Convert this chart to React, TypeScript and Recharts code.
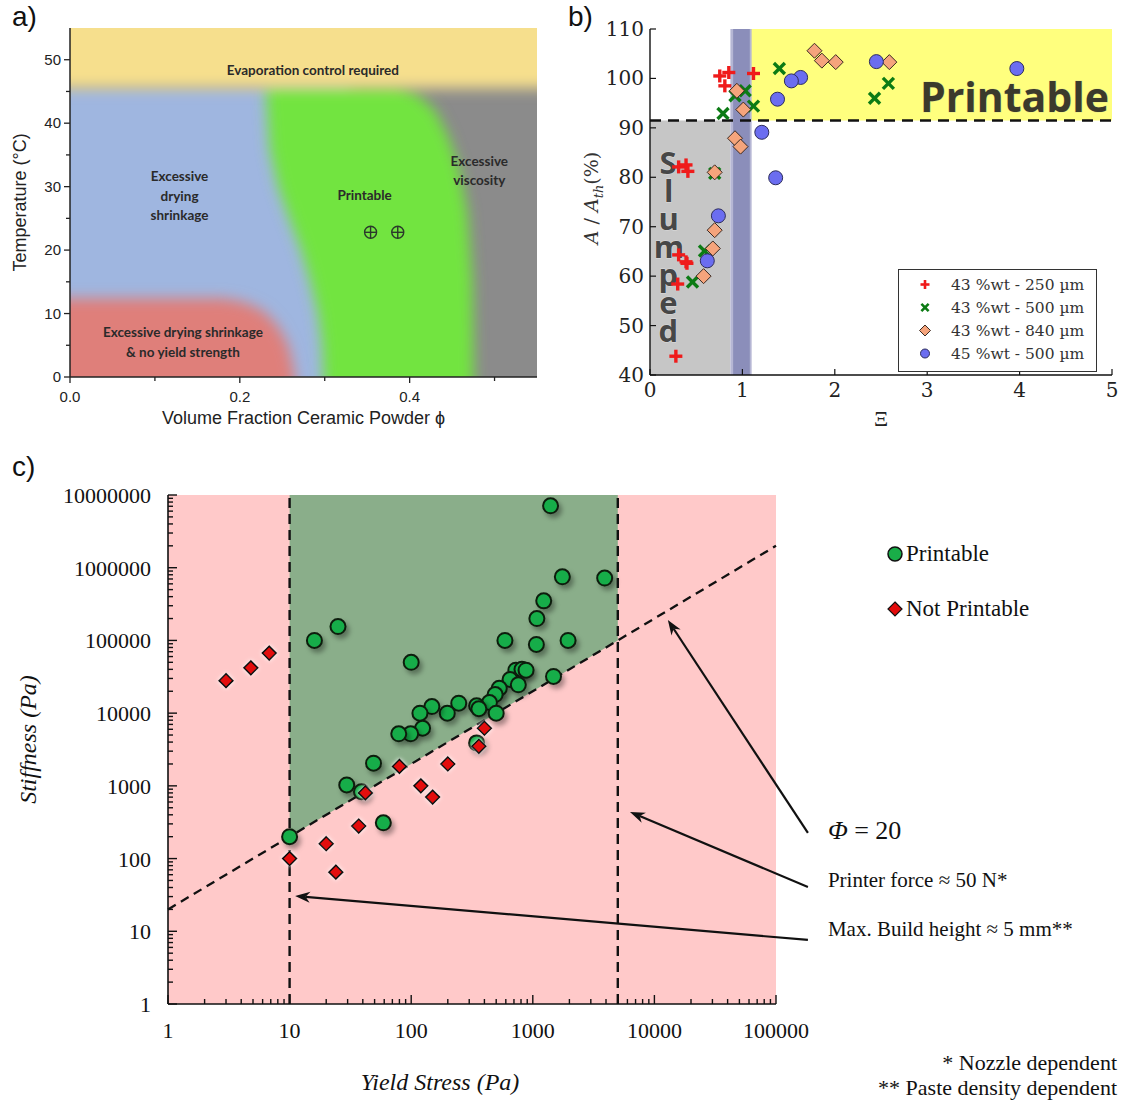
import React from 'react';
import {
  ComposedChart,
  ScatterChart,
  Scatter,
  Area,
  XAxis,
  YAxis,
  CartesianGrid,
  ReferenceArea,
  ReferenceLine,
  ReferenceDot,
  Legend,
} from 'recharts';

const SANS = "'Liberation Sans', Arial, sans-serif";
const SERIF = "'Liberation Serif', 'DejaVu Serif', serif";
const MPL_SERIF = "'DejaVu Serif', serif";

/* ---------------- a) printability map ---------------- */
const PHI_TICKS = [0, 0.1, 0.2, 0.3, 0.4, 0.5];
const PHI_LABELS = [0, 0.2, 0.4];
const TEMP_TICKS = [0, 5, 10, 15, 20, 25, 30, 35, 40, 45, 50];
const TEMP_LABELS = [0, 10, 20, 30, 40, 50];

// zones as temperature bands [low, high] along the powder fraction
const EVAPORATION_ZONE = [
  { phi: -0.05, band: [45.5, 62] },
  { phi: 0.6, band: [45.5, 62] },
];
const DRYING_ZONE = [
  { phi: -0.05, band: [-5, 46] },
  { phi: 0.33, band: [-5, 46] },
];
const NO_YIELD_ZONE = [
  { phi: -0.05, band: [-5, 12.4] },
  { phi: 0.18, band: [-5, 12.4] },
  { phi: 0.205, band: [-5, 11.8] },
  { phi: 0.228, band: [-5, 10.4] },
  { phi: 0.245, band: [-5, 8] },
  { phi: 0.257, band: [-5, 5] },
  { phi: 0.264, band: [-5, 1] },
  { phi: 0.267, band: [-5, -5] },
];
const PRINTABLE_ZONE = [
  { phi: 0.231, band: [44, 46] },
  { phi: 0.235, band: [36, 46] },
  { phi: 0.245, band: [30, 46] },
  { phi: 0.258, band: [25, 46] },
  { phi: 0.272, band: [20, 46] },
  { phi: 0.283, band: [15, 46] },
  { phi: 0.292, band: [10, 46] },
  { phi: 0.297, band: [5, 46] },
  { phi: 0.3, band: [-5, 46] },
  { phi: 0.385, band: [-5, 46] },
  { phi: 0.41, band: [-5, 44.5] },
  { phi: 0.43, band: [-5, 42] },
  { phi: 0.445, band: [-5, 38] },
  { phi: 0.458, band: [-5, 33] },
  { phi: 0.468, band: [-5, 26] },
  { phi: 0.474, band: [-5, 15] },
  { phi: 0.476, band: [-5, -5] },
];
const MAP_POINTS_PHI = [0.354, 0.386];
const MAP_POINTS_TEMP = [22.8, 22.8];
const ZONE_TEXT = [
  { phi: 0.286, temp: 48.3, lines: ['Evaporation control required'] },
  { phi: 0.129, temp: 28.5, lines: ['Excessive', 'drying', 'shrinkage'] },
  { phi: 0.347, temp: 28.6, lines: ['Printable'] },
  { phi: 0.482, temp: 32.5, lines: ['Excessive', 'viscosity'] },
  { phi: 0.133, temp: 5.5, lines: ['Excessive drying shrinkage', '& no yield strength'] },
];

const mapPoints = MAP_POINTS_PHI.map((phi, i) => ({ phi, temp: MAP_POINTS_TEMP[i] }));
const near = (a: number, list: number[]) => list.some((v) => Math.abs(v - a) < 1e-9);

const PhiTick = (props: any) => {
  const { x, y, payload } = props;
  const major = near(payload.value, PHI_LABELS);
  return (
    <g>
      <line x1={x} x2={x} y1={y} y2={y + (major ? 6 : 4)} stroke="#222" strokeWidth={1.3} />
      {major && (
        <text x={x} y={y + 25} textAnchor="middle" fontFamily={SANS} fontSize={15} fill="#222">
          {payload.value.toFixed(1)}
        </text>
      )}
    </g>
  );
};

const TempTick = (props: any) => {
  const { x, y, payload } = props;
  const major = near(payload.value, TEMP_LABELS);
  return (
    <g>
      <line x1={x} x2={x - (major ? 6 : 4)} y1={y} y2={y} stroke="#222" strokeWidth={1.3} />
      {major && (
        <text x={x - 9} y={y + 5} textAnchor="end" fontFamily={SANS} fontSize={15} fill="#222">
          {payload.value}
        </text>
      )}
    </g>
  );
};

const ZoneLabel = (props: any) => {
  const { viewBox, lines } = props;
  const lh = 19.5;
  const top = viewBox.y - ((lines.length - 1) * lh) / 2;
  return (
    <text textAnchor="middle" fontFamily="Lato, 'Open Sans', sans-serif" fontWeight={700} fontSize={13.5} fill="#2a2a2a">
      {lines.map((l: string, i: number) => (
        <tspan key={i} x={viewBox.x} y={top + i * lh} dy="0.35em">
          {l}
        </tspan>
      ))}
    </text>
  );
};

const MapXTitle = (props: any) => {
  const { viewBox } = props;
  return (
    <text x={viewBox.x + viewBox.width / 2} y={viewBox.y + 47} textAnchor="middle" fontFamily={SANS} fontSize={18} fill="#222">
      Volume Fraction Ceramic Powder ϕ
    </text>
  );
};

const MapYTitle = (props: any) => {
  const { viewBox } = props;
  const cx = viewBox.x + 26;
  const cy = viewBox.y + viewBox.height / 2;
  return (
    <text x={cx} y={cy} transform={`rotate(-90, ${cx}, ${cy})`} textAnchor="middle" fontFamily={SANS} fontSize={18} fill="#222">
      Temperature (°C)
    </text>
  );
};

const CrossCircle = (props: any) => {
  const { cx, cy } = props;
  return (
    <g stroke="#2b3a2b" strokeWidth={1.4} fill="none">
      <circle cx={cx} cy={cy} r={6} />
      <line x1={cx - 6} x2={cx + 6} y1={cy} y2={cy} />
      <line x1={cx} x2={cx} y1={cy - 6} y2={cy + 6} />
    </g>
  );
};

function PrintabilityMap() {
  return (
    <ComposedChart width={560} height={440} margin={{ top: 28, right: 23, bottom: 0, left: 0 }}>
      <CartesianGrid horizontal={false} vertical={false} fill="#8b8b8b" fillOpacity={1} />
      <XAxis
        type="number"
        dataKey="phi"
        domain={[0, 0.55]}
        allowDataOverflow
        ticks={PHI_TICKS}
        interval={0}
        tickSize={0}
        tickMargin={0}
        tickLine={false}
        tick={PhiTick}
        height={63}
        axisLine={{ stroke: '#222', strokeWidth: 1.5 }}
        label={<MapXTitle />}
      />
      <YAxis
        type="number"
        domain={[0, 55]}
        allowDataOverflow
        ticks={TEMP_TICKS}
        interval={0}
        tickSize={0}
        tickMargin={0}
        tickLine={false}
        tick={TempTick}
        width={70}
        axisLine={{ stroke: '#222', strokeWidth: 1.5 }}
        label={<MapYTitle />}
      />
      <XAxis xAxisId="frame" orientation="top" type="number" domain={[0, 0.55]} height={0} tick={false} tickLine={false} axisLine={{ stroke: '#333', strokeWidth: 1.3 }} />
      <YAxis yAxisId="frame" orientation="right" type="number" domain={[0, 55]} width={0} tick={false} tickLine={false} axisLine={{ stroke: '#333', strokeWidth: 1.3 }} />

      <Area className="zone" data={DRYING_ZONE} dataKey="band" type="linear" fill="#9fb6e0" fillOpacity={1} stroke="none" dot={false} activeDot={false} legendType="none" isAnimationActive={false} />
      <Area className="zone" data={PRINTABLE_ZONE} dataKey="band" type="linear" fill="#72e43f" fillOpacity={1} stroke="none" dot={false} activeDot={false} legendType="none" isAnimationActive={false} />
      <Area className="zone" data={NO_YIELD_ZONE} dataKey="band" type="linear" fill="#df7f7a" fillOpacity={1} stroke="none" dot={false} activeDot={false} legendType="none" isAnimationActive={false} />
      <Area className="zone" data={EVAPORATION_ZONE} dataKey="band" type="linear" fill="#f6df8d" fillOpacity={1} stroke="none" dot={false} activeDot={false} legendType="none" isAnimationActive={false} />

      <Scatter data={mapPoints} dataKey="temp" shape={CrossCircle} isAnimationActive={false} />
      {ZONE_TEXT.map((z) => (
        <ReferenceDot key={z.lines.join()} x={z.phi} y={z.temp} r={0} fill="none" stroke="none" label={<ZoneLabel lines={z.lines} />} />
      ))}
    </ComposedChart>
  );
}

/* ---------------- b) slumping vs printable ---------------- */
const XI_TICKS = [0, 1, 2, 3, 4, 5];
const AREA_TICKS = [40, 50, 60, 70, 80, 90, 100, 110];
const PRINTABLE_LIMIT = 91.5;
const SLUMP_XI_MAX = 0.87;
const TRANSITION_XI = [0.9, 1.08];
const TRANSITION_HALO = [0.87, 1.1];
const PRINTABLE_XI_MIN = 1.09;

const XI_250 = [0.755, 0.853, 0.81, 1.12, 0.31, 0.39, 0.41, 0.31, 0.4, 0.39, 0.3, 0.28];
const AREA_250 = [100.5, 101.2, 98.5, 101, 82.1, 82.5, 81.2, 64.3, 62.6, 62.9, 58.4, 43.8];
const XI_500 = [0.79, 0.92, 1.03, 1.12, 1.4, 2.43, 2.58, 0.7, 0.59, 0.46];
const AREA_500 = [92.9, 96.5, 97.5, 94.4, 102.0, 96.0, 99.0, 80.8, 65.1, 58.8];
const XI_840 = [1.78, 1.86, 2.01, 2.59, 0.94, 1.01, 0.92, 0.98, 0.7, 0.7, 0.68, 0.58];
const AREA_840 = [105.6, 103.6, 103.3, 103.3, 97.5, 93.7, 87.9, 86.2, 81.0, 69.3, 65.6, 60.0];
const XI_45_500 = [2.45, 3.97, 1.63, 1.53, 1.38, 1.21, 1.36, 0.74, 0.62];
const AREA_45_500 = [103.4, 102.0, 100.2, 99.5, 95.8, 89.1, 79.9, 72.2, 63.1];

const toPoints = (xs: number[], ys: number[]) => xs.map((xi, i) => ({ xi, area: ys[i] }));

const PlusMark = ({ cx, cy, s = 6.5, w = 3.4 }: any) => (
  <g stroke="#ef1b1b" strokeWidth={w}>
    <line x1={cx - s} x2={cx + s} y1={cy} y2={cy} />
    <line x1={cx} x2={cx} y1={cy - s} y2={cy + s} />
  </g>
);
const CrossMark = ({ cx, cy, s = 5.5, w = 3.4 }: any) => (
  <g stroke="#0c7b14" strokeWidth={w}>
    <line x1={cx - s} x2={cx + s} y1={cy - s} y2={cy + s} />
    <line x1={cx - s} x2={cx + s} y1={cy + s} y2={cy - s} />
  </g>
);
const DiamondMark = ({ cx, cy, s = 7.5 }: any) => (
  <polygon points={`${cx},${cy - s} ${cx + s},${cy} ${cx},${cy + s} ${cx - s},${cy}`} fill="#f5a47c" stroke="#3b2a22" strokeWidth={1} />
);
const DotMark = ({ cx, cy, s = 7 }: any) => <circle cx={cx} cy={cy} r={s} fill="#6b6df0" stroke="#2d2d5c" strokeWidth={1} />;

const SERIES_B = [
  { name: '43 %wt - 250 µm', xs: XI_250, ys: AREA_250, Mark: PlusMark, small: { s: 4.5, w: 2.6 } },
  { name: '43 %wt - 500 µm', xs: XI_500, ys: AREA_500, Mark: CrossMark, small: { s: 3.6, w: 2.6 } },
  { name: '43 %wt - 840 µm', xs: XI_840, ys: AREA_840, Mark: DiamondMark, small: { s: 5.5 } },
  { name: '45 %wt - 500 µm', xs: XI_45_500, ys: AREA_45_500, Mark: DotMark, small: { s: 4.5 } },
];

const XiTick = (props: any) => {
  const { x, y, payload } = props;
  return (
    <g>
      <line x1={x} x2={x} y1={y} y2={y - 6} stroke="#111" strokeWidth={1.2} />
      <text x={x} y={y + 22} textAnchor="middle" fontFamily={MPL_SERIF} fontSize={20} fill="#222">
        {payload.value}
      </text>
    </g>
  );
};
const XiTopTick = (props: any) => {
  const { x, y } = props;
  return <line x1={x} x2={x} y1={y} y2={y + 6} stroke="#111" strokeWidth={1.2} />;
};
const AreaTick = (props: any) => {
  const { x, y, payload } = props;
  return (
    <g>
      <line x1={x} x2={x + 6} y1={y} y2={y} stroke="#111" strokeWidth={1.2} />
      <text x={x - 6} y={y + 7} textAnchor="end" fontFamily={MPL_SERIF} fontSize={20} fill="#222">
        {payload.value}
      </text>
    </g>
  );
};
const AreaRightTick = (props: any) => {
  const { x, y } = props;
  return <line x1={x} x2={x - 6} y1={y} y2={y} stroke="#111" strokeWidth={1.2} />;
};

const XiTitle = (props: any) => {
  const { viewBox } = props;
  return (
    <text x={viewBox.x + viewBox.width / 2} y={viewBox.y + 51} textAnchor="middle" fontFamily={SERIF} fontSize={22} fill="#222">
      Ξ
    </text>
  );
};
const AreaTitle = (props: any) => {
  const { viewBox } = props;
  const cx = viewBox.x + 38;
  const cy = viewBox.y + viewBox.height / 2 - 4;
  return (
    <text x={cx} y={cy} transform={`rotate(-90, ${cx}, ${cy})`} textAnchor="middle" fontFamily={MPL_SERIF} fontSize={19} fill="#333">
      <tspan fontStyle="italic">A</tspan>
      <tspan> / </tspan>
      <tspan fontStyle="italic">A</tspan>
      <tspan fontStyle="italic" fontSize={13} dy={5}>th</tspan>
      <tspan dy={-5}>(%)</tspan>
    </text>
  );
};

// "Slumped" written top-to-bottom with upright letters
const SlumpedLabel = (props: any) => {
  const { viewBox } = props;
  return (
    <text
      x={viewBox.x + 18}
      y={viewBox.y + 21}
      fontFamily="'Open Sans', 'DejaVu Sans', sans-serif"
      fontWeight={700}
      fontSize={31}
      letterSpacing={-14}
      fill="#474747"
      stroke="#dcdcdc"
      strokeWidth={1}
      paintOrder="stroke"
      style={{ writingMode: 'vertical-rl', textOrientation: 'upright' } as any}
    >
      Slumped
    </text>
  );
};
const PrintableBanner = (props: any) => {
  const { viewBox } = props;
  return (
    <text x={viewBox.x + viewBox.width - 3} y={viewBox.y + viewBox.height - 8} textAnchor="end" fontFamily="'Open Sans', 'DejaVu Sans', sans-serif" fontWeight={700} fontSize={41} fill="#3b3a2c" stroke="#e9e98a" strokeWidth={1} paintOrder="stroke">
      Printable
    </text>
  );
};

const SlumpLegend = (props: any) => {
  const payload = props.payload || [];
  return (
    <div style={{ width: 199, height: 103, boxSizing: 'border-box', border: '1.5px solid #333', background: '#fff', paddingTop: 3 }}>
      {SERIES_B.filter((cfg) => payload.some((e: any) => e.value === cfg.name)).map((cfg) => {
        const M = cfg.Mark;
        return (
          <div key={cfg.name} style={{ display: 'flex', alignItems: 'center', height: 23 }}>
            <svg width={52} height={23}>
              <M cx={26} cy={11.5} {...cfg.small} />
            </svg>
            <span style={{ fontFamily: MPL_SERIF, fontSize: 15.5, color: '#333', whiteSpace: 'nowrap' }}>{cfg.name}</span>
          </div>
        );
      })}
    </div>
  );
};

function SlumpChart() {
  return (
    <ScatterChart width={563} height={440} margin={{ top: 29, right: 11, bottom: 0, left: 0 }}>
      <XAxis
        type="number"
        dataKey="xi"
        domain={[0, 5]}
        ticks={XI_TICKS}
        interval={0}
        tickSize={0}
        tickMargin={0}
        tickLine={false}
        tick={XiTick}
        height={65}
        axisLine={{ stroke: '#111', strokeWidth: 1.4 }}
        label={<XiTitle />}
      />
      <YAxis
        type="number"
        dataKey="area"
        domain={[40, 110]}
        ticks={AREA_TICKS}
        interval={0}
        tickSize={0}
        tickMargin={0}
        tickLine={false}
        tick={AreaTick}
        width={90}
        axisLine={{ stroke: '#111', strokeWidth: 1.4 }}
        label={<AreaTitle />}
      />
      <XAxis xAxisId="top" orientation="top" type="number" domain={[0, 5]} ticks={XI_TICKS} interval={0} tickSize={0} tickMargin={0} tickLine={false} tick={XiTopTick} height={0} axisLine={{ stroke: '#111', strokeWidth: 1.4 }} />
      <YAxis yAxisId="right" orientation="right" type="number" domain={[40, 110]} ticks={AREA_TICKS} interval={0} tickSize={0} tickMargin={0} tickLine={false} tick={AreaRightTick} width={0} axisLine={{ stroke: '#111', strokeWidth: 1.4 }} />

      <ReferenceArea x1={0} x2={SLUMP_XI_MAX} y1={40} y2={PRINTABLE_LIMIT} fill="#c6c6c6" fillOpacity={1} stroke="none" label={<SlumpedLabel />} />
      <ReferenceArea x1={PRINTABLE_XI_MIN} x2={5} y1={PRINTABLE_LIMIT} y2={110} fill="#ffff7e" fillOpacity={1} stroke="none" label={<PrintableBanner />} />
      <ReferenceArea x1={TRANSITION_HALO[0]} x2={TRANSITION_HALO[1]} y1={40} y2={110} fill="#b5b6d4" fillOpacity={1} stroke="none" />
      <ReferenceArea x1={TRANSITION_XI[0]} x2={TRANSITION_XI[1]} y1={40} y2={110} fill="#8b8eba" fillOpacity={1} stroke="none" />
      <ReferenceLine y={PRINTABLE_LIMIT} stroke="#111" strokeWidth={2.6} strokeDasharray="11 7" />

      {SERIES_B.map((s) => {
        const M = s.Mark;
        return (
          <Scatter key={s.name} name={s.name} data={toPoints(s.xs, s.ys)} dataKey="area" shape={(p: any) => <M cx={p.cx} cy={p.cy} />} isAnimationActive={false} />
        );
      })}
      <Legend layout="vertical" align="center" verticalAlign="middle" content={SlumpLegend} wrapperStyle={{ left: 338, top: 269, width: 199, height: 103 }} />
    </ScatterChart>
  );
}

/* ---------------- c) stiffness vs yield stress ---------------- */
const STRESS_DECADES = [1, 10, 100, 1000, 10000, 100000];
const STIFFNESS_DECADES = [1, 10, 100, 1000, 10000, 100000, 1000000, 10000000];
const MINOR_STEPS = [1, 2, 3, 4, 5, 6, 7, 8, 9];
const PHI = 20; // stiffness / yield stress along the boundary line
const BUILD_HEIGHT_STRESS = 10;
const PRINTER_FORCE_STRESS = 5000;
const OUTCOMES = ['Printable', 'Not Printable'];

const PRINTABLE_STRESS = [1400, 1750, 3900, 1230, 1080, 1950, 590, 1070, 16, 25, 100, 1480, 725, 815, 880, 650, 760, 530, 490, 440, 345, 360, 500, 246, 198, 148, 118, 124, 99, 79, 49, 29.5, 39, 345, 59, 10];
const PRINTABLE_STIFFNESS = [7100000, 750000, 720000, 350000, 200000, 100000, 100000, 88000, 100000, 155000, 50000, 32000, 39000, 40000, 39000, 29000, 24500, 22000, 18000, 14000, 12600, 11500, 10000, 13700, 10000, 12300, 10000, 6200, 5200, 5200, 2050, 1030, 830, 3900, 310, 200];
const FAILED_STRESS = [3, 4.8, 6.8, 10, 20, 24, 37, 42, 80, 120, 150, 200, 360, 400];
const FAILED_STIFFNESS = [28000, 42000, 67000, 100, 160, 65, 280, 800, 1850, 1000, 700, 2000, 3500, 6200];

const CALLOUTS = [
  { key: 'phi', label: 'Φ = 20', from: { stress: 183000, stiffness: 225 }, to: { stress: 12900, stiffness: 191000 }, dy: -3, size: 26 },
  { key: 'force', label: 'Printer force ≈ 50 N*', from: { stress: 183000, stiffness: 40.7 }, to: { stress: 6300, stiffness: 438 }, dy: -7, size: 21 },
  { key: 'height', label: 'Max. Build height ≈ 5 mm**', from: { stress: 183000, stiffness: 7.6 }, to: { stress: 11.1, stiffness: 30.6 }, dy: -11, size: 21 },
];

const expandDecades = (decades: number[]) =>
  decades.flatMap((d, i) => (i < decades.length - 1 ? MINOR_STEPS.map((k) => k * d) : [d]));
const STRESS_TICKS = expandDecades(STRESS_DECADES);
const STIFFNESS_TICKS = expandDecades(STIFFNESS_DECADES);

const printablePoints = PRINTABLE_STRESS.map((stress, i) => ({ stress, stiffness: PRINTABLE_STIFFNESS[i] }));
const failedPoints = FAILED_STRESS.map((stress, i) => ({ stress, stiffness: FAILED_STIFFNESS[i] }));
const printableWindow = [
  { stress: BUILD_HEIGHT_STRESS, stiffness: [PHI * BUILD_HEIGHT_STRESS, 10000000] },
  { stress: PRINTER_FORCE_STRESS, stiffness: [PHI * PRINTER_FORCE_STRESS, 10000000] },
];

const GREEN = '#19ad48';
const RED = '#e30b0b';

const StressTick = (props: any) => {
  const { x, y, payload } = props;
  const major = near(payload.value, STRESS_DECADES);
  return (
    <g>
      <line x1={x} x2={x} y1={y} y2={y - (major ? 9 : 5)} stroke="#111" strokeWidth={1.4} />
      {major && (
        <text x={x} y={y + 34} textAnchor="middle" fontFamily={SERIF} fontSize={22} fill="#111">
          {String(payload.value)}
        </text>
      )}
    </g>
  );
};
const StiffnessTick = (props: any) => {
  const { x, y, payload } = props;
  const major = near(payload.value, STIFFNESS_DECADES);
  return (
    <g>
      <line x1={x} x2={x + (major ? 9 : 5)} y1={y} y2={y} stroke="#111" strokeWidth={1.4} />
      {major && (
        <text x={x - 17} y={y + 8} textAnchor="end" fontFamily={SERIF} fontSize={22} fill="#111">
          {String(payload.value)}
        </text>
      )}
    </g>
  );
};

const StressTitle = (props: any) => {
  const { viewBox } = props;
  return (
    <text x={viewBox.x + viewBox.width / 2 - 32} y={viewBox.y + 86} textAnchor="middle" fontFamily={SERIF} fontStyle="italic" fontSize={24} fill="#111">
      Yield Stress (Pa)
    </text>
  );
};
const StiffnessTitle = (props: any) => {
  const { viewBox } = props;
  const cx = viewBox.x + 36;
  const cy = viewBox.y + viewBox.height / 2 - 10;
  return (
    <text x={cx} y={cy} transform={`rotate(-90, ${cx}, ${cy})`} textAnchor="middle" fontFamily={SERIF} fontStyle="italic" fontSize={24} fill="#111">
      Stiffness (Pa)
    </text>
  );
};

const GreenDot = (props: any) => (
  <circle cx={props.cx} cy={props.cy} r={7.5} fill={GREEN} stroke="#0d1f0d" strokeWidth={2} filter="url(#markShadow)" />
);
const RedDiamond = (props: any) => {
  const { cx, cy } = props;
  const s = 7;
  return (
    <polygon points={`${cx},${cy - s} ${cx + s},${cy} ${cx},${cy + s} ${cx - s},${cy}`} fill={RED} stroke="#111" strokeWidth={1.6} filter="url(#markGlow)" />
  );
};

const calloutShape = (c: (typeof CALLOUTS)[number]) => (props: any) => {
  const { x1, y1, x2, y2 } = props;
  const ang = Math.atan2(y2 - y1, x2 - x1);
  const L = 15;
  const W = 5.5;
  const cos = Math.cos(ang);
  const sin = Math.sin(ang);
  const bx = x2 - L * cos;
  const by = y2 - L * sin;
  const nx = x2 - L * 0.7 * cos;
  const ny = y2 - L * 0.7 * sin;
  const head = `${x2},${y2} ${bx - W * sin},${by + W * cos} ${nx},${ny} ${bx + W * sin},${by - W * cos}`;
  const isPhi = c.key === 'phi';
  return (
    <g>
      <line x1={x1} y1={y1} x2={nx} y2={ny} stroke="#111" strokeWidth={2.2} />
      <polygon points={head} fill="#111" />
      <text x={x1 + 20} y={y1 + c.dy} dy="0.35em" fontFamily={SERIF} fontSize={c.size} fill="#111">
        {isPhi ? (
          <>
            <tspan fontStyle="italic">Φ</tspan>
            <tspan> = 20</tspan>
          </>
        ) : (
          c.label
        )}
      </text>
    </g>
  );
};

const StiffnessLegend = (props: any) => {
  const payload = props.payload || [];
  const shown = OUTCOMES.filter((name) => payload.some((e: any) => e.value === name));
  return (
    <div style={{ fontFamily: SERIF, fontSize: 23, color: '#111' }}>
      {shown.map((name) => (
        <div key={name} style={{ display: 'flex', alignItems: 'center', height: 55 }}>
          <svg width={20} height={20} style={{ flex: 'none' }}>
            {name === 'Printable' ? (
              <circle cx={10} cy={10} r={7} fill={GREEN} stroke="#111" strokeWidth={1.5} />
            ) : (
              <polygon points="10,3 17,10 10,17 3,10" fill={RED} stroke="#111" strokeWidth={1.2} />
            )}
          </svg>
          <span style={{ marginLeft: 1, whiteSpace: 'nowrap' }}>{name}</span>
        </div>
      ))}
    </div>
  );
};

function StiffnessChart() {
  return (
    <ComposedChart width={1123} height={642} margin={{ top: 35, right: 347, bottom: 0, left: 0 }}>
      <CartesianGrid horizontal={false} vertical={false} fill="#ffc9c9" fillOpacity={1} />
      <XAxis
        type="number"
        scale="log"
        dataKey="stress"
        domain={[1, 100000]}
        allowDataOverflow
        ticks={STRESS_TICKS}
        interval={0}
        tickSize={0}
        tickMargin={0}
        tickLine={false}
        tick={StressTick}
        height={98}
        axisLine={{ stroke: '#111', strokeWidth: 1.6 }}
        label={<StressTitle />}
      />
      <YAxis
        type="number"
        scale="log"
        domain={[1, 10000000]}
        allowDataOverflow
        ticks={STIFFNESS_TICKS}
        interval={0}
        tickSize={0}
        tickMargin={0}
        tickLine={false}
        tick={StiffnessTick}
        width={168}
        axisLine={{ stroke: '#111', strokeWidth: 1.6 }}
        label={<StiffnessTitle />}
      />
      <XAxis xAxisId="frame" orientation="top" type="number" domain={[1, 100000]} height={0} tick={false} tickLine={false} axisLine={{ stroke: '#1f3a1f', strokeWidth: 1.6 }} />
      <YAxis yAxisId="frame" orientation="right" type="number" domain={[1, 10000000]} width={0} tick={false} tickLine={false} axisLine={{ stroke: '#111', strokeWidth: 1.6 }} />

      <Area data={printableWindow} dataKey="stiffness" type="linear" fill="#8aae8a" fillOpacity={1} stroke="none" dot={false} activeDot={false} legendType="none" isAnimationActive={false} />

      <ReferenceLine x={BUILD_HEIGHT_STRESS} stroke="#111" strokeWidth={2.4} strokeDasharray="10 6" />
      <ReferenceLine x={PRINTER_FORCE_STRESS} stroke="#111" strokeWidth={2.4} strokeDasharray="10 6" />
      <ReferenceLine
        segment={[
          { x: 1, y: PHI * 1 },
          { x: 100000, y: PHI * 100000 },
        ]}
        stroke="#111"
        strokeWidth={2.3}
        strokeDasharray="9 6"
      />

      <Scatter name="Printable" data={printablePoints} dataKey="stiffness" shape={GreenDot} legendType="circle" fill={GREEN} isAnimationActive={false} />
      <Scatter name="Not Printable" data={failedPoints} dataKey="stiffness" shape={RedDiamond} legendType="diamond" fill={RED} isAnimationActive={false} />

      {CALLOUTS.map((c) => (
        <ReferenceLine
          key={c.key}
          segment={[
            { x: c.from.stress, y: c.from.stiffness },
            { x: c.to.stress, y: c.to.stiffness },
          ]}
          ifOverflow="visible"
          shape={calloutShape(c)}
        />
      ))}
      <Legend layout="vertical" align="center" verticalAlign="middle" content={StiffnessLegend} wrapperStyle={{ left: 885, top: 66, width: 220 }} />
    </ComposedChart>
  );
}

export default function App() {
  return (
    <div style={{ position: 'absolute', left: 0, top: 0, width: 1123, height: 1102, background: '#fff', overflow: 'hidden' }}>
      <style>{'.zone .recharts-area-area { filter: url(#zoneBlur); }'}</style>
      <svg width={0} height={0} style={{ position: 'absolute' }}>
        <defs>
          <filter id="zoneBlur" x="-20%" y="-20%" width="140%" height="140%">
            <feGaussianBlur stdDeviation="7" />
          </filter>
          <filter id="markShadow" x="-100%" y="-100%" width="300%" height="300%">
            <feDropShadow dx="3" dy="4" stdDeviation="2.5" floodColor="#000" floodOpacity="0.35" />
          </filter>
          <filter id="markGlow" x="-100%" y="-100%" width="300%" height="300%">
            <feDropShadow dx="0" dy="0" stdDeviation="2" floodColor="#fff" floodOpacity="0.9" />
          </filter>
        </defs>
      </svg>
      <div style={{ position: 'absolute', left: 0, top: 0 }}>
        <PrintabilityMap />
      </div>
      <div style={{ position: 'absolute', left: 560, top: 0 }}>
        <SlumpChart />
      </div>
      <div style={{ position: 'absolute', left: 0, top: 460 }}>
        <StiffnessChart />
      </div>
      <div style={{ position: 'absolute', left: 12, top: 3, fontFamily: SANS, fontSize: 28, color: '#111', lineHeight: 1 }}>a)</div>
      <div style={{ position: 'absolute', left: 568, top: 3, fontFamily: SANS, fontSize: 28, color: '#111', lineHeight: 1 }}>b)</div>
      <div style={{ position: 'absolute', left: 12, top: 453, fontFamily: SANS, fontSize: 28, color: '#111', lineHeight: 1 }}>c)</div>
      <div style={{ position: 'absolute', right: 6, top: 1050, fontFamily: SERIF, fontSize: 22, lineHeight: '25px', color: '#111', textAlign: 'right' }}>
        <div>* Nozzle dependent</div>
        <div>** Paste density dependent</div>
      </div>
    </div>
  );
}
